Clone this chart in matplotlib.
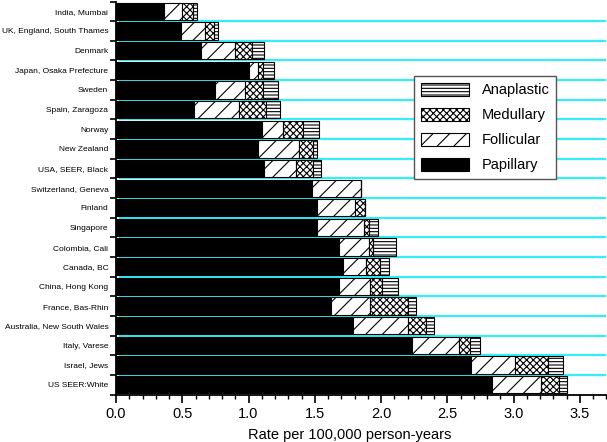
import numpy as np
import matplotlib
matplotlib.use("Agg")
import matplotlib.pyplot as plt
from matplotlib.ticker import MultipleLocator

plt.rcParams['font.family'] = ['Liberation Sans', 'DejaVu Sans']
plt.rcParams['hatch.linewidth'] = 0.8

# Registres (de haut en bas)
registries = ["India, Mumbai", "UK, England, South Thames", "Denmark",
              "Japan, Osaka Prefecture", "Sweden", "Spain, Zaragoza", "Norway",
              "New Zealand", "USA, SEER, Black", "Switzerland, Geneva", "Finland",
              "Singapore", "Colombia, Cali", "Canada, BC", "China, Hong Kong",
              "France, Bas-Rhin", "Australia, New South Wales", "Italy, Varese",
              "Israel, Jews", "US SEER:White"]

# Taux par 100 000 personnes-années, par type histologique
papillary = [0.36, 0.49, 0.64, 1.00, 0.75, 0.59, 1.10, 1.07, 1.12, 1.48,
             1.52, 1.52, 1.68, 1.71, 1.68, 1.62, 1.79, 2.23, 2.68, 2.84]
follicular = [0.14, 0.18, 0.26, 0.07, 0.22, 0.34, 0.16, 0.31, 0.24, 0.37,
              0.28, 0.35, 0.23, 0.18, 0.24, 0.30, 0.41, 0.36, 0.33, 0.37]
medullary = [0.08, 0.07, 0.13, 0.04, 0.14, 0.20, 0.15, 0.11, 0.13, 0.00,
             0.08, 0.04, 0.03, 0.10, 0.09, 0.28, 0.14, 0.08, 0.25, 0.13]
anaplastic = [0.03, 0.03, 0.09, 0.08, 0.11, 0.11, 0.12, 0.03, 0.06, 0.00,
              0.00, 0.07, 0.17, 0.07, 0.12, 0.06, 0.06, 0.08, 0.11, 0.06]

fig = plt.figure(figsize=(6.07, 4.42), dpi=100)
ax = fig.add_axes([116 / 607, 1 - 394.5 / 442, 491 / 607, 393 / 442])

y = np.arange(len(registries))
p = np.array(papillary)
f = np.array(follicular)
m = np.array(medullary)
a = np.array(anaplastic)
h = 0.88

# Lignes cyan entre les barres
for b in np.arange(0.5, len(registries) - 1, 1.0):
    ax.axhline(b, xmin=0.008, xmax=0.996, color='#33f0f8', lw=1.6, zorder=0)

b_p = ax.barh(y, p, height=h, color='black', edgecolor='black', lw=0.8, label='Papillary')
b_f = ax.barh(y, f, left=p, height=h, color='white', edgecolor='black', lw=0.8, hatch='//', label='Follicular')
b_m = ax.barh(y, m, left=p + f, height=h, color='white', edgecolor='black', lw=0.8, hatch='xxxxx', label='Medullary')
b_a = ax.barh(y, a, left=p + f + m, height=h, color='white', edgecolor='black', lw=0.8, hatch='-----', label='Anaplastic')

ax.set_ylim(len(registries) - 0.5, -0.5)
ax.set_xlim(0, 3.705)

ax.set_yticks(y)
ax.set_yticklabels(registries, fontsize=6.0)
ax.tick_params(axis='y', which='major', length=0, pad=5.5)
ax.set_yticks(np.arange(-0.5, len(registries), 1.0), minor=True)
ax.tick_params(axis='y', which='minor', length=4, width=1.2, direction='out')

ax.xaxis.set_major_locator(MultipleLocator(0.5))
ax.xaxis.set_minor_locator(MultipleLocator(0.1))
ax.tick_params(axis='x', which='major', length=6, width=1.2, labelsize=10.5, pad=3)
ax.tick_params(axis='x', which='minor', length=3, width=1.0)
ax.set_xlabel("Rate per 100,000 person-years", fontsize=10.5)
ax.xaxis.set_label_coords(0.475, -0.085)

for s in ['top', 'right']:
    ax.spines[s].set_visible(False)
for s in ['left', 'bottom']:
    ax.spines[s].set_linewidth(1.3)

leg = ax.legend(handles=[b_a, b_m, b_f, b_p], loc='upper left',
                bbox_to_anchor=(0.607, 0.81), borderaxespad=0, fontsize=10.5,
                handlelength=3.3, handleheight=1.0, labelspacing=0.72,
                fancybox=False, framealpha=1, edgecolor='#555555',
                borderpad=0.45, handletextpad=0.9)
leg.get_frame().set_linewidth(1.0)

plt.savefig("out.png", dpi=100)
